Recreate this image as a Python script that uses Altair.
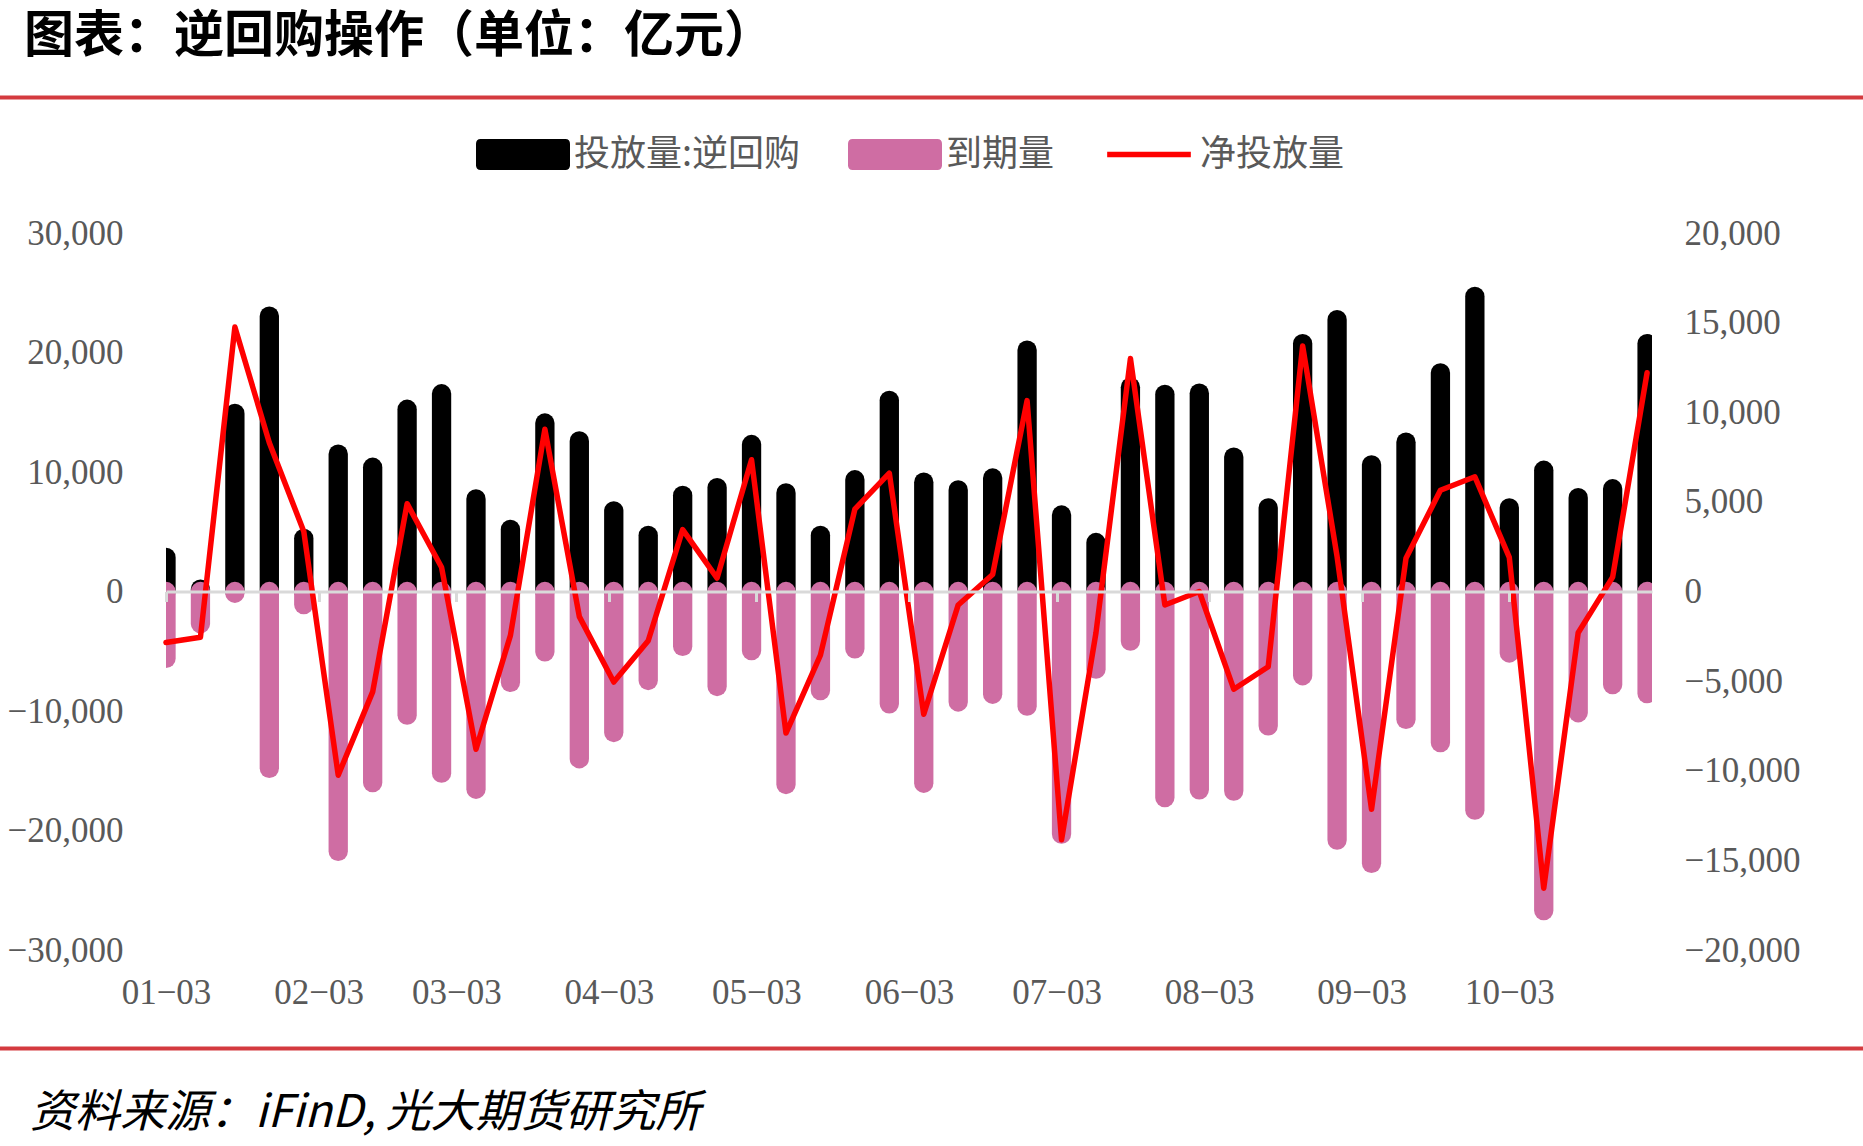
import altair as alt
import pandas as pd

# ---------------- data ----------------
dates = [
    "2025-01-03", "2025-01-10", "2025-01-17", "2025-01-24", "2025-01-31",
    "2025-02-07", "2025-02-14", "2025-02-21", "2025-02-28",
    "2025-03-07", "2025-03-14", "2025-03-21", "2025-03-28",
    "2025-04-04", "2025-04-11", "2025-04-18", "2025-04-25",
    "2025-05-02", "2025-05-09", "2025-05-16", "2025-05-23", "2025-05-30",
    "2025-06-06", "2025-06-13", "2025-06-20", "2025-06-27",
    "2025-07-04", "2025-07-11", "2025-07-18", "2025-07-25",
    "2025-08-01", "2025-08-08", "2025-08-15", "2025-08-22", "2025-08-29",
    "2025-09-05", "2025-09-12", "2025-09-19", "2025-09-26",
    "2025-10-03", "2025-10-10", "2025-10-17", "2025-10-24", "2025-10-31",
]

# 投放量:逆回购 (left axis)
release = [
    2850, 200, 14900, 23050, 4450, 11500, 10400, 15250, 16550, 7750,
    5200, 14100, 12600, 6750, 4700, 8050, 8700, 12300, 8250, 4700,
    9350, 16000, 9150, 8500, 9500, 20200, 6400, 4100, 17100, 16500,
    16600, 11250, 7000, 20750, 22750, 10600, 12500, 18300, 24700, 7000,
    10150, 7850, 8600, 20750,
]

# 到期量 (left axis, drawn downward)
maturity = [
    -5600, -2700, -150, -14800, -1100, -21750, -16000, -10350, -15200, -16550,
    -7600, -5050, -14000, -11800, -7450, -4600, -7950, -4950, -16150, -8300,
    -4800, -9400, -16050, -9250, -8600, -9600, -20300, -6500, -4150, -17250,
    -16600, -16700, -11250, -7050, -20800, -22750, -10700, -12650, -18300, -5150,
    -26700, -10150, -7800, -8550,
]

# 净投放量 (right axis)
net = [
    -2850, -2550, 14750, 8300, 3350, -10250, -5600, 4900, 1350, -8800,
    -2450, 9050, -1400, -5050, -2750, 3450, 750, 7350, -7900, -3550,
    4600, 6600, -6850, -750, 950, 10650, -13850, -2300, 13000, -750,
    0, -5450, -4200, 13700, 1950, -12150, 1850, 5650, 6400, 1900,
    -16550, -2300, 800, 12200,
]

series_names = ["投放量:逆回购", "到期量", "净投放量"]
left_ticks = [-30000, -20000, -10000, 0, 10000, 20000, 30000]
right_ticks = [-20000, -15000, -10000, -5000, 0, 5000, 10000, 15000, 20000]
tick_months = list(range(1, 11))

title_text = "图表：逆回购操作（单位：亿元）"
source_text = "资料来源：iFinD, 光大期货研究所"

# ---------------- styling / layout ----------------
BLACK = "#000000"
PINK = "#CF6DA3"
RED = "#FF0000"
GRAY = "#595959"
LIGHT = "#D9D9D9"
SEP_RED = "#D43A3F"

FULL_W, FULL_H = 1863, 1146
PL, PT = 166, 233
W, H = 1486, 717

df = pd.DataFrame({"date": dates, "release": release, "maturity": maturity, "net": net})

xscale = alt.Scale(
    type="utc",
    domain=[alt.DateTime(year=2025, month=1, date=3, utc=True),
            alt.DateTime(year=2025, month=11, date=1, utc=True)],
    nice=False,
)
xaxis = alt.Axis(
    values=[alt.DateTime(year=2025, month=m, date=3, utc=True) for m in tick_months],
    labelExpr="utcFormat(datum.value, '%m') + '−' + utcFormat(datum.value, '%d')",
    title=None,
    offset=-358.5, domain=True, domainColor=LIGHT, domainWidth=3,
    ticks=True, tickColor=LIGHT, tickWidth=3, tickSize=10,
    labelPadding=391, labelBaseline="middle", labelFont="Liberation Serif",
    labelFontSize=35, labelColor=GRAY, grid=False, zindex=1,
    labelFlush=False, labelOverlap=False,
)
X = alt.X("date:T", scale=xscale, axis=xaxis)

yleft = alt.Scale(domain=[-30000, 30000], nice=False, zero=False)
yleft_axis = alt.Axis(
    title=None, values=left_ticks, format=",.0f", orient="left",
    labelFont="Liberation Serif", labelFontSize=35, labelColor=GRAY,
    labelPadding=43, ticks=False, domain=False, grid=False, labelFlush=False,
)
yright = alt.Scale(domain=[-20000, 20000], nice=False, zero=False)
yright_axis = alt.Axis(
    title=None, values=right_ticks, format=",.0f", orient="right",
    labelFont="Liberation Serif", labelFontSize=35, labelColor=GRAY,
    labelPadding=32, ticks=False, domain=False, grid=False, labelFlush=False,
)

black = alt.Chart(df).mark_rule(
    color=BLACK, strokeWidth=19.3, strokeCap="round", clip=True
).encode(x=X, y=alt.Y("release:Q", scale=yleft, axis=yleft_axis), y2=alt.datum(0))

pink = alt.Chart(df).mark_rule(
    color=PINK, strokeWidth=19.3, strokeCap="round", clip=True
).encode(x=X, y=alt.Y("maturity:Q", scale=yleft, axis=yleft_axis), y2=alt.datum(0))

# legend (library legend, symbols shaped by a shape scale)
rect_path = ("M-0.9,-0.33H0.9Q1,-0.33 1,-0.23V0.23Q1,0.33 0.9,0.33"
             "H-0.9Q-1,0.33 -1,0.23V-0.23Q-1,-0.33 -0.9,-0.33Z")
line_path = "M-0.89,-0.06H0.89V0.06H-0.89Z"

def make_legend():
    return alt.Legend(
        orient="none", legendX=310, legendY=-125.5, direction="horizontal",
        columns=3, title=None, labelFont="Noto Sans CJK SC", labelFontSize=36,
        labelColor=GRAY, labelLimit=600, symbolSize=8836, symbolStrokeWidth=0,
        columnPadding=47, labelOffset=4, padding=0,
    )

leg_df = pd.DataFrame({"series": series_names})
legend_pts = alt.Chart(leg_df).mark_point(filled=True, opacity=1).encode(
    x=alt.value(-3000), y=alt.value(-3000),
    color=alt.Color("series:N", scale=alt.Scale(domain=series_names, range=[BLACK, PINK, RED]),
                    legend=make_legend()),
    shape=alt.Shape("series:N", scale=alt.Scale(domain=series_names, range=[rect_path, rect_path, line_path]),
                    legend=make_legend()),
)

one = pd.DataFrame({"t": [title_text]})
title_layer = alt.Chart(one).mark_text(
    align="left", baseline="middle", font="Noto Sans CJK SC", fontSize=50,
    fontWeight="bold", color="#000000",
).encode(text="t:N", x=alt.value(24 - PL), y=alt.value(37 - PT))

src = pd.DataFrame({"t": [source_text]})
source_layer = alt.Chart(src).mark_text(
    align="left", baseline="middle", font="Noto Sans CJK SC", fontSize=45,
    fontStyle="italic", color="#000000",
).encode(text="t:N", x=alt.value(30 - PL), y=alt.value(1113 - PT))

sep_top = alt.Chart(one).mark_rule(color=SEP_RED, strokeWidth=4).encode(
    x=alt.value(-PL), x2=alt.value(FULL_W - PL), y=alt.value(97.5 - PT))
sep_bot = alt.Chart(one).mark_rule(color=SEP_RED, strokeWidth=4).encode(
    x=alt.value(-PL), x2=alt.value(FULL_W - PL), y=alt.value(1048.5 - PT))

line = alt.Chart(df).mark_line(
    color=RED, strokeWidth=5.5, strokeJoin="round", strokeCap="round"
).encode(x=X, y=alt.Y("net:Q", scale=yright, axis=yright_axis))

left = alt.layer(sep_top, sep_bot, title_layer, source_layer, black, pink, legend_pts)

chart = alt.layer(left, line).resolve_scale(y="independent").properties(
    width=W, height=H,
    padding={"left": PL, "top": PT, "right": FULL_W - PL - W, "bottom": FULL_H - PT - H},
    autosize=alt.AutoSizeParams(type="none"),
    background="white",
).configure_view(stroke=None)

chart.save("out.html", embed_options={"renderer": "svg", "actions": False})
